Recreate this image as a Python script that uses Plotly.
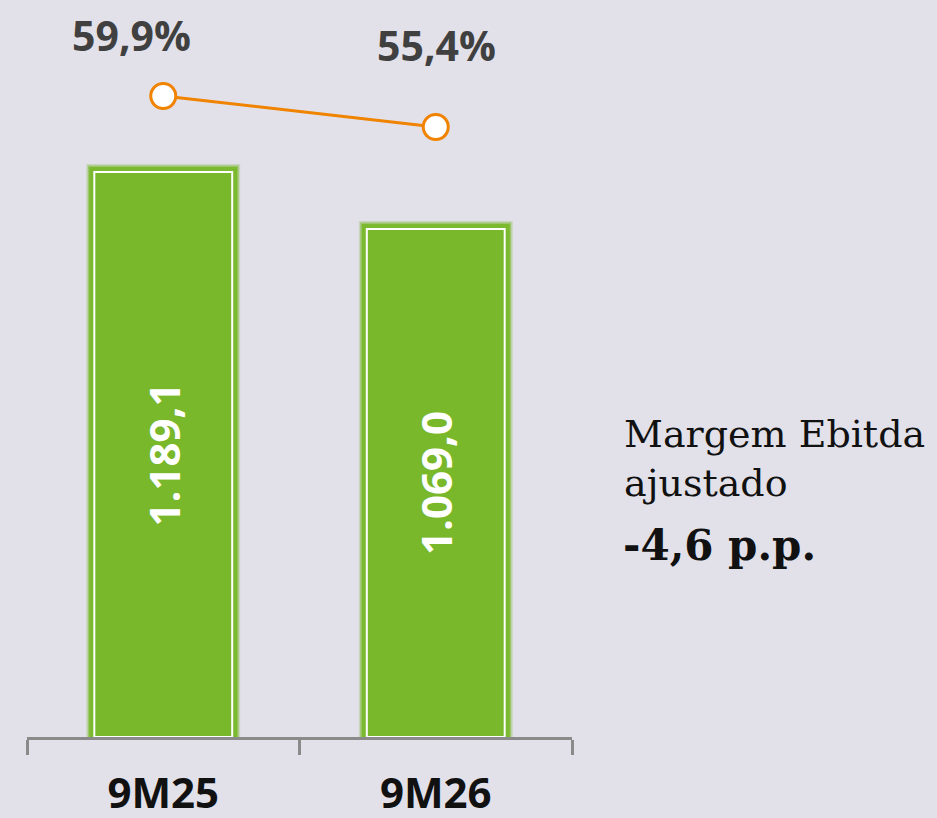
import plotly.graph_objects as go

categories = ["9M25", "9M26"]
ebitda_values = [1189.1, 1069.0]
margin_values = [59.9, 55.4]
margin_labels = ["59,9%", "55,4%"]
side_title = "Margem Ebitda<br>ajustado"
side_value = "-4,6 p.p."

GREEN = "#79b82b"
ORANGE = "#f08300"
BG = "#e2e1ea"

fig = go.Figure()

# soft glow layers behind bars
for w, a in [(16, 0.25), (13, 0.55), (10, 0.95)]:
    fig.add_trace(go.Bar(
        x=categories, y=ebitda_values, width=0.506,
        marker=dict(color=GREEN, line=dict(color=f"rgba(121,184,43,{a})", width=w)),
        hoverinfo="skip", showlegend=False,
    ))

fig.add_trace(go.Bar(
    x=categories, y=ebitda_values, width=0.506,
    marker=dict(color=GREEN, line=dict(color="white", width=2)),
    texttemplate="%{y:,.1f}", textposition="inside", insidetextanchor="middle",
    textangle=-90, constraintext="none",
    textfont=dict(family="Open Sans", size=42, color="white", weight="bold"),
    showlegend=False,
))

fig.add_trace(go.Scatter(
    x=categories, y=margin_values, yaxis="y2", mode="lines+markers",
    line=dict(color=ORANGE, width=3),
    marker=dict(size=25, color="white", line=dict(color=ORANGE, width=3)),
    showlegend=False,
))

shifts = [(-32, 61), (1, 82)]
for c, v, t, (dx, dy) in zip(categories, margin_values, margin_labels, shifts):
    fig.add_annotation(
        x=c, y=v, xref="x", yref="y2", text=t, showarrow=False,
        xshift=dx, yshift=dy,
        font=dict(family="Open Sans", size=41, color="#404040", weight="bold"),
    )

PLOT_BOTTOM = 737
fig.add_annotation(
    x=1.0917, y=(PLOT_BOTTOM - 459) / PLOT_BOTTOM, xref="paper", yref="paper",
    xanchor="left", yanchor="middle", align="left", showarrow=False,
    text=side_title,
    font=dict(family="DejaVu Serif", size=38, color="#111111"),
)
fig.add_annotation(
    x=1.0895, y=(PLOT_BOTTOM - 545) / PLOT_BOTTOM, xref="paper", yref="paper",
    xanchor="left", yanchor="middle", align="left", showarrow=False,
    text=f"<b>{side_value}</b>",
    font=dict(family="DejaVu Serif", size=42, color="#111111"),
)

fig.update_layout(
    width=937, height=818,
    margin=dict(l=27, r=365, t=0, b=818 - PLOT_BOTTOM, autoexpand=False),
    paper_bgcolor=BG, plot_bgcolor=BG,
    barmode="overlay", separators=",.",
    xaxis=dict(
        showline=True, linecolor="#8a8a8a", linewidth=3, automargin=False,
        ticks="outside", tickson="boundaries", ticklen=15, tickwidth=3,
        tickcolor="#8a8a8a", ticklabelstandoff=18,
        tickfont=dict(family="Open Sans", size=42, color="#111111", weight="bold"),
        showgrid=False, zeroline=False,
    ),
    yaxis=dict(range=[0, 1551], visible=False, showgrid=False, zeroline=False,
               automargin=False),
    yaxis2=dict(range=[-33.13, 73.83], overlaying="y", visible=False,
                showgrid=False, zeroline=False, automargin=False),
)

fig.write_html("out.html", config={"displayModeBar": False})

with open("out.html", encoding="utf-8") as f:
    html = f.read()
html = html.replace("<head>", "<head><style>html,body{margin:0;padding:0;overflow:hidden;background:%s;}</style>" % BG, 1)
with open("out.html", "w", encoding="utf-8") as f:
    f.write(html)
